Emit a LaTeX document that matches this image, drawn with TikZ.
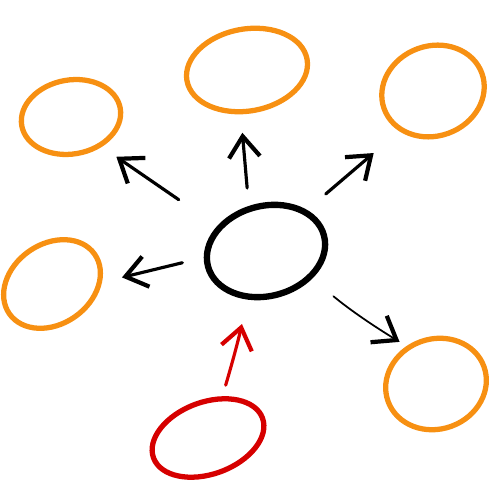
\documentclass[tikz,border=0pt]{standalone}
\usepackage{tikz}
\usepackage{xcolor}
\definecolor{og}{RGB}{247,144,18}
\definecolor{rd}{RGB}{214,0,0}
\usetikzlibrary{shapes.geometric, arrows.meta}

\begin{document}
\begin{tikzpicture}[
  blob/.style={ellipse, draw, inner sep=0pt, line width=3pt},
  arr/.style={-{Straight Barb[length=0.42cm,width=0.62cm,line width=2.4pt]}, line width=1.8pt, line cap=round}]
\useasboundingbox (0,0) rectangle (10,10);
\node[blob, black, line width=3.6pt, minimum width=2.4cm, minimum height=1.8cm, rotate=15] (hub) at (5.32,4.98) {};
\foreach \n/\x/\y/\w/\h/\r in {
tl/1.42/7.66/2.0/1.48/10,
top/4.94/8.60/2.44/1.64/10,
tr/8.66/8.18/2.08/1.8/20,
lf/1.04/4.32/2.08/1.6/35,
br/8.72/2.32/2.04/1.8/20
}{
\node[blob, og, minimum width=\w cm, minimum height=\h cm, rotate=\r] (\n) at (\x,\y) {};
}
\node[blob, rd, minimum width=2.32cm, minimum height=1.44cm, rotate=20] (src) at (4.16,1.24) {};
% arrows out of the hub
\foreach \a/\b/\p/\q/\s/\t in {
hub/tl/138/-54/0.93/0.35,
hub/top/96/-108/0.36/0.37,
hub/tr/30/210/0.49/0.67,
hub/lf/171/-33/0.44/0.41
}{
\draw[arr, shorten <=\s cm, shorten >=\t cm] (\a.\p) -- (\b.\q);
}
\draw[arr, line width=1pt, shorten <=0.55cm, shorten >=0.16cm] (hub.-46) to[bend right=4] (br.108);
% arrow into the hub
\draw[arr, rd, shorten <=0.23cm, shorten >=0.5cm] (src.51) to[bend right=2] (hub.234);
\end{tikzpicture}
\end{document}
